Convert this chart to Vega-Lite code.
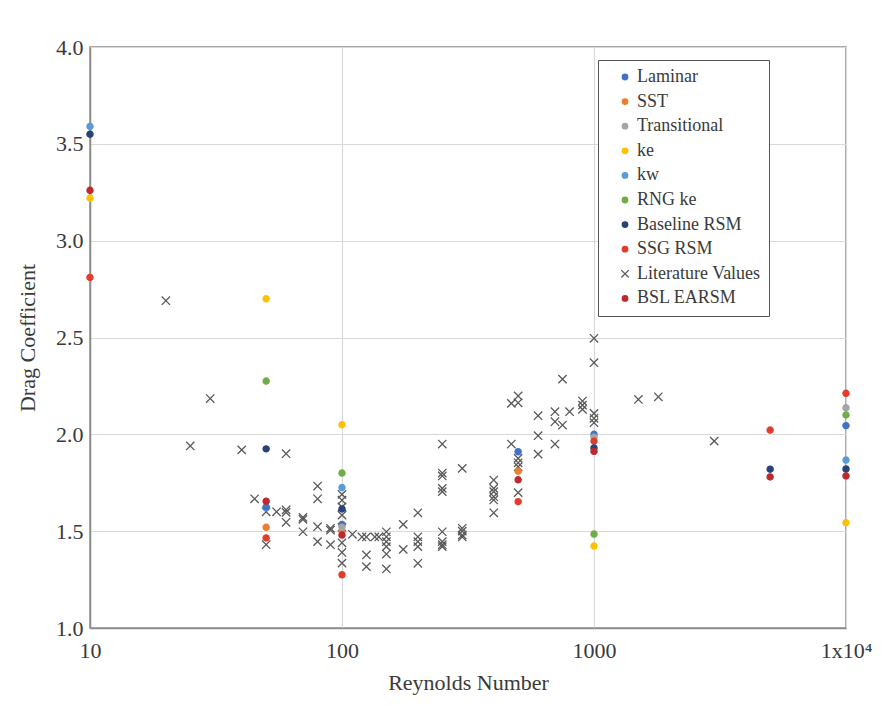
{
  "$schema": "https://vega.github.io/schema/vega-lite/v6.json",
  "autosize": {"type": "none"},
  "width": 756,
  "height": 581,
  "padding": {"left": 90, "top": 47, "right": 46, "bottom": 78},
  "background": "white",
  "config": {
    "font": "Liberation Serif",
    "view": {"stroke": "#8c8c8c", "strokeWidth": 1.5},
    "axis": {
      "labelFont": "Liberation Serif",
      "titleFont": "Liberation Serif",
      "labelFontSize": 22,
      "titleFontSize": 22,
      "labelColor": "#3a3a3a",
      "titleColor": "#3a3a3a",
      "titleFontWeight": "normal",
      "gridColor": "#d9d9d9",
      "gridWidth": 1.2,
      "domainColor": "#8c8c8c",
      "domainWidth": 1.5,
      "ticks": false
    },
    "legend": {
      "orient": "none",
      "legendX": 508,
      "legendY": 13,
      "fillColor": "white",
      "strokeColor": "#555555",
      "padding": 8,
      "labelFont": "Liberation Serif",
      "labelFontSize": 18,
      "labelColor": "#3a3a3a",
      "rowPadding": 6.6,
      "symbolSize": 30,
      "symbolStrokeWidth": 1.3,
      "symbolOffset": 10,
      "labelOffset": 3
    }
  },
  "data": {
    "values": [
      {"re": 20, "cd": 2.69, "series": "Literature Values"},
      {"re": 25, "cd": 1.94, "series": "Literature Values"},
      {"re": 30, "cd": 2.185, "series": "Literature Values"},
      {"re": 40, "cd": 1.92, "series": "Literature Values"},
      {"re": 45, "cd": 1.667, "series": "Literature Values"},
      {"re": 50, "cd": 1.6, "series": "Literature Values"},
      {"re": 50, "cd": 1.43, "series": "Literature Values"},
      {"re": 55, "cd": 1.6, "series": "Literature Values"},
      {"re": 60, "cd": 1.9, "series": "Literature Values"},
      {"re": 60, "cd": 1.61, "series": "Literature Values"},
      {"re": 60, "cd": 1.597, "series": "Literature Values"},
      {"re": 60, "cd": 1.546, "series": "Literature Values"},
      {"re": 70, "cd": 1.571, "series": "Literature Values"},
      {"re": 70, "cd": 1.561, "series": "Literature Values"},
      {"re": 70, "cd": 1.497, "series": "Literature Values"},
      {"re": 80, "cd": 1.733, "series": "Literature Values"},
      {"re": 80, "cd": 1.667, "series": "Literature Values"},
      {"re": 80, "cd": 1.523, "series": "Literature Values"},
      {"re": 80, "cd": 1.446, "series": "Literature Values"},
      {"re": 90, "cd": 1.515, "series": "Literature Values"},
      {"re": 90, "cd": 1.505, "series": "Literature Values"},
      {"re": 90, "cd": 1.43, "series": "Literature Values"},
      {"re": 100, "cd": 1.69, "series": "Literature Values"},
      {"re": 100, "cd": 1.66, "series": "Literature Values"},
      {"re": 100, "cd": 1.625, "series": "Literature Values"},
      {"re": 100, "cd": 1.583, "series": "Literature Values"},
      {"re": 100, "cd": 1.52, "series": "Literature Values"},
      {"re": 100, "cd": 1.44, "series": "Literature Values"},
      {"re": 100, "cd": 1.39, "series": "Literature Values"},
      {"re": 100, "cd": 1.335, "series": "Literature Values"},
      {"re": 110, "cd": 1.484, "series": "Literature Values"},
      {"re": 120, "cd": 1.47, "series": "Literature Values"},
      {"re": 125, "cd": 1.47, "series": "Literature Values"},
      {"re": 125, "cd": 1.377, "series": "Literature Values"},
      {"re": 125, "cd": 1.317, "series": "Literature Values"},
      {"re": 135, "cd": 1.47, "series": "Literature Values"},
      {"re": 140, "cd": 1.47, "series": "Literature Values"},
      {"re": 150, "cd": 1.497, "series": "Literature Values"},
      {"re": 150, "cd": 1.471, "series": "Literature Values"},
      {"re": 150, "cd": 1.446, "series": "Literature Values"},
      {"re": 150, "cd": 1.42, "series": "Literature Values"},
      {"re": 150, "cd": 1.382, "series": "Literature Values"},
      {"re": 150, "cd": 1.305, "series": "Literature Values"},
      {"re": 175, "cd": 1.535, "series": "Literature Values"},
      {"re": 175, "cd": 1.406, "series": "Literature Values"},
      {"re": 200, "cd": 1.595, "series": "Literature Values"},
      {"re": 200, "cd": 1.471, "series": "Literature Values"},
      {"re": 200, "cd": 1.446, "series": "Literature Values"},
      {"re": 200, "cd": 1.42, "series": "Literature Values"},
      {"re": 200, "cd": 1.334, "series": "Literature Values"},
      {"re": 250, "cd": 1.95, "series": "Literature Values"},
      {"re": 250, "cd": 1.8, "series": "Literature Values"},
      {"re": 250, "cd": 1.785, "series": "Literature Values"},
      {"re": 250, "cd": 1.721, "series": "Literature Values"},
      {"re": 250, "cd": 1.704, "series": "Literature Values"},
      {"re": 250, "cd": 1.497, "series": "Literature Values"},
      {"re": 250, "cd": 1.446, "series": "Literature Values"},
      {"re": 250, "cd": 1.43, "series": "Literature Values"},
      {"re": 250, "cd": 1.42, "series": "Literature Values"},
      {"re": 300, "cd": 1.824, "series": "Literature Values"},
      {"re": 300, "cd": 1.515, "series": "Literature Values"},
      {"re": 300, "cd": 1.5, "series": "Literature Values"},
      {"re": 300, "cd": 1.48, "series": "Literature Values"},
      {"re": 300, "cd": 1.47, "series": "Literature Values"},
      {"re": 400, "cd": 1.764, "series": "Literature Values"},
      {"re": 400, "cd": 1.721, "series": "Literature Values"},
      {"re": 400, "cd": 1.704, "series": "Literature Values"},
      {"re": 400, "cd": 1.678, "series": "Literature Values"},
      {"re": 400, "cd": 1.661, "series": "Literature Values"},
      {"re": 400, "cd": 1.595, "series": "Literature Values"},
      {"re": 470, "cd": 2.16, "series": "Literature Values"},
      {"re": 470, "cd": 1.95, "series": "Literature Values"},
      {"re": 500, "cd": 2.198, "series": "Literature Values"},
      {"re": 500, "cd": 2.163, "series": "Literature Values"},
      {"re": 500, "cd": 1.876, "series": "Literature Values"},
      {"re": 500, "cd": 1.853, "series": "Literature Values"},
      {"re": 500, "cd": 1.833, "series": "Literature Values"},
      {"re": 500, "cd": 1.699, "series": "Literature Values"},
      {"re": 600, "cd": 2.096, "series": "Literature Values"},
      {"re": 600, "cd": 1.993, "series": "Literature Values"},
      {"re": 600, "cd": 1.898, "series": "Literature Values"},
      {"re": 700, "cd": 2.117, "series": "Literature Values"},
      {"re": 700, "cd": 2.065, "series": "Literature Values"},
      {"re": 700, "cd": 1.95, "series": "Literature Values"},
      {"re": 750, "cd": 2.285, "series": "Literature Values"},
      {"re": 750, "cd": 2.048, "series": "Literature Values"},
      {"re": 800, "cd": 2.117, "series": "Literature Values"},
      {"re": 900, "cd": 2.172, "series": "Literature Values"},
      {"re": 900, "cd": 2.151, "series": "Literature Values"},
      {"re": 900, "cd": 2.129, "series": "Literature Values"},
      {"re": 1000, "cd": 2.496, "series": "Literature Values"},
      {"re": 1000, "cd": 2.37, "series": "Literature Values"},
      {"re": 1000, "cd": 2.108, "series": "Literature Values"},
      {"re": 1000, "cd": 2.083, "series": "Literature Values"},
      {"re": 1000, "cd": 2.06, "series": "Literature Values"},
      {"re": 1500, "cd": 2.18, "series": "Literature Values"},
      {"re": 1800, "cd": 2.194, "series": "Literature Values"},
      {"re": 3000, "cd": 1.965, "series": "Literature Values"},

      {"re": 10, "cd": 3.59, "series": "kw"},
      {"re": 10, "cd": 3.55, "series": "Baseline RSM"},
      {"re": 10, "cd": 3.22, "series": "ke"},
      {"re": 10, "cd": 3.26, "series": "BSL EARSM"},
      {"re": 10, "cd": 2.81, "series": "SSG RSM"},

      {"re": 50, "cd": 2.7, "series": "ke"},
      {"re": 50, "cd": 2.275, "series": "RNG ke"},
      {"re": 50, "cd": 1.925, "series": "Baseline RSM"},
      {"re": 50, "cd": 1.62, "series": "kw"},
      {"re": 50, "cd": 1.625, "series": "Laminar"},
      {"re": 50, "cd": 1.52, "series": "SST"},
      {"re": 50, "cd": 1.655, "series": "BSL EARSM"},
      {"re": 50, "cd": 1.465, "series": "SSG RSM"},

      {"re": 100, "cd": 2.05, "series": "ke"},
      {"re": 100, "cd": 1.8, "series": "RNG ke"},
      {"re": 100, "cd": 1.725, "series": "kw"},
      {"re": 100, "cd": 1.615, "series": "Baseline RSM"},
      {"re": 100, "cd": 1.535, "series": "Laminar"},
      {"re": 100, "cd": 1.5, "series": "SST"},
      {"re": 100, "cd": 1.52, "series": "Transitional"},
      {"re": 100, "cd": 1.48, "series": "BSL EARSM"},
      {"re": 100, "cd": 1.275, "series": "SSG RSM"},

      {"re": 500, "cd": 1.91, "series": "Laminar"},
      {"re": 500, "cd": 1.81, "series": "SST"},
      {"re": 500, "cd": 1.765, "series": "BSL EARSM"},
      {"re": 500, "cd": 1.652, "series": "SSG RSM"},

      {"re": 1000, "cd": 2.0, "series": "Laminar"},
      {"re": 1000, "cd": 1.985, "series": "Transitional"},
      {"re": 1000, "cd": 1.965, "series": "SSG RSM"},
      {"re": 1000, "cd": 1.93, "series": "Baseline RSM"},
      {"re": 1000, "cd": 1.912, "series": "BSL EARSM"},
      {"re": 1000, "cd": 1.485, "series": "RNG ke"},
      {"re": 1000, "cd": 1.423, "series": "ke"},

      {"re": 5000, "cd": 2.022, "series": "SSG RSM"},
      {"re": 5000, "cd": 1.82, "series": "Baseline RSM"},
      {"re": 5000, "cd": 1.78, "series": "BSL EARSM"},

      {"re": 10000, "cd": 2.212, "series": "SSG RSM"},
      {"re": 10000, "cd": 2.137, "series": "Transitional"},
      {"re": 10000, "cd": 2.1, "series": "RNG ke"},
      {"re": 10000, "cd": 2.045, "series": "Laminar"},
      {"re": 10000, "cd": 1.867, "series": "kw"},
      {"re": 10000, "cd": 1.821, "series": "Baseline RSM"},
      {"re": 10000, "cd": 1.785, "series": "BSL EARSM"},
      {"re": 10000, "cd": 1.544, "series": "ke"}
    ]
  },
  "mark": {"type": "point", "filled": true, "opacity": 1, "strokeWidth": 1.3},
  "encoding": {
    "x": {
      "field": "re",
      "type": "quantitative",
      "scale": {"type": "log", "domain": [10, 10000], "nice": false},
      "axis": {
        "title": "Reynolds Number",
        "values": [10, 100, 1000, 10000],
        "labelExpr": "datum.value >= 10000 ? '1x10⁴' : format(datum.value, 'd')",
        "labelPadding": 12,
        "titlePadding": 11,
        "labelFlush": false
      }
    },
    "y": {
      "field": "cd",
      "type": "quantitative",
      "scale": {"domain": [1, 4], "nice": false, "zero": false},
      "axis": {
        "title": "Drag Coefficient",
        "values": [1, 1.5, 2, 2.5, 3, 3.5, 4],
        "format": ".1f",
        "labelPadding": 7,
        "titlePadding": 16,
        "labelFlush": false
      }
    },
    "fill": {
      "field": "series",
      "type": "nominal",
      "scale": {
        "domain": ["Laminar", "SST", "Transitional", "ke", "kw", "RNG ke", "Baseline RSM", "SSG RSM", "Literature Values", "BSL EARSM"],
        "range": ["#4472C4", "#ED7D31", "#A5A5A5", "#FFC000", "#5B9BD5", "#70AD47", "#264478", "#E23D2C", "#595959", "#C0282E"]
      },
      "legend": {"title": null}
    },
    "stroke": {
      "field": "series",
      "type": "nominal",
      "scale": {
        "domain": ["Laminar", "SST", "Transitional", "ke", "kw", "RNG ke", "Baseline RSM", "SSG RSM", "Literature Values", "BSL EARSM"],
        "range": ["#4472C4", "#ED7D31", "#A5A5A5", "#FFC000", "#5B9BD5", "#70AD47", "#264478", "#E23D2C", "#595959", "#C0282E"]
      },
      "legend": {"title": null}
    },
    "shape": {
      "field": "series",
      "type": "nominal",
      "scale": {
        "domain": ["Laminar", "SST", "Transitional", "ke", "kw", "RNG ke", "Baseline RSM", "SSG RSM", "Literature Values", "BSL EARSM"],
        "range": ["circle", "circle", "circle", "circle", "circle", "circle", "circle", "circle", "M-1.35,-1.35L1.35,1.35M1.35,-1.35L-1.35,1.35", "circle"]
      },
      "legend": {"title": null}
    },
    "size": {"value": 38}
  }
}
